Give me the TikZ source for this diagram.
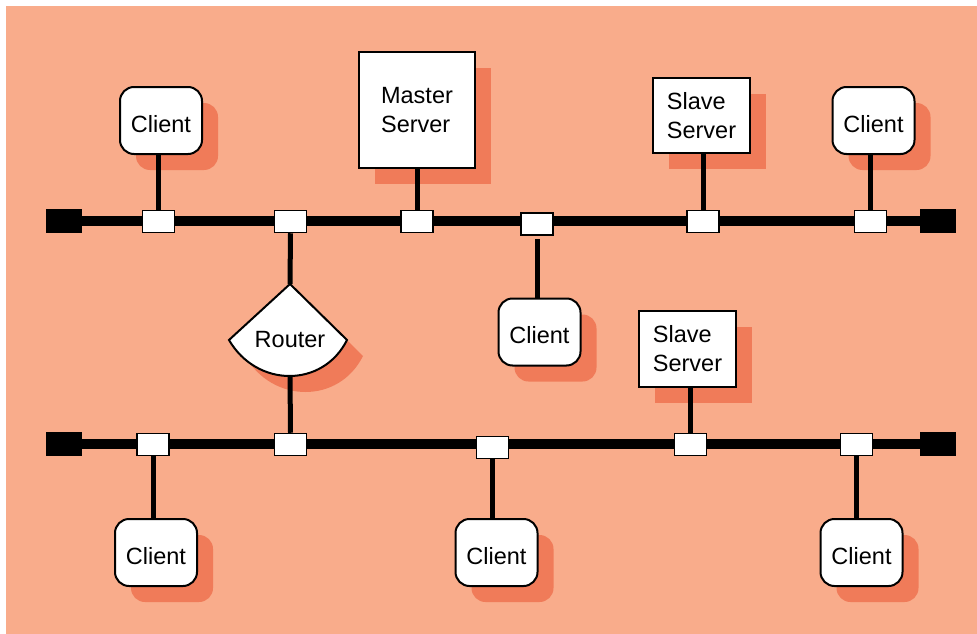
\documentclass[tikz,border=0pt]{standalone}
\usepackage{fontspec}
\setmainfont{Liberation Sans}
\usetikzlibrary{shadows}
\definecolor{bgsalmon}{RGB}{249,172,139}
\definecolor{shadowc}{RGB}{240,123,89}
\tikzset{
  txt/.style={font=\fontsize{23.5}{29}\selectfont},
  shd/.style={drop shadow={fill=shadowc, opacity=1, shadow xshift=16pt, shadow yshift=-16pt}},
  client/.style={txt, draw, fill=white, rounded corners=14pt, line width=2pt,
    minimum width=82pt, minimum height=67pt, inner sep=0pt, text height=23pt, text depth=0pt, shd},
  server/.style={txt, draw, fill=white, line width=2pt, inner sep=0pt, align=left, shd},
  tap/.style={draw, fill=white, line width=1.5pt, minimum width=32pt, minimum height=22pt, inner sep=0pt},
  term/.style={fill=black, minimum width=36pt, minimum height=24pt, inner sep=0pt},
  bus/.style={line width=10pt},
  drop/.style={line width=5pt}
}
\begin{document}
\begin{tikzpicture}[x=1pt,y=-1pt]
\useasboundingbox (0,0) rectangle (977,634);
\fill[bgsalmon] (6,6) rectangle (977,634);

% nodes with shadows
\node[client] (c1) at (161,120.5) {Client};
\node[client] (c2) at (873.5,120.5) {Client};
\node[client] (c3) at (539.5,332) {Client};
\node[client] (c4) at (156,552.5) {Client};
\node[client] (c5) at (496.5,552.5) {Client};
\node[client] (c6) at (861.5,552.5) {Client};
\node[server, minimum width=116pt, minimum height=115pt] (ms) at (417,110) {Master\\Server};
\node[server, minimum width=97pt, minimum height=75pt] (s1) at (701.5,115.5) {Slave\\Server};
\node[server, minimum width=97pt, minimum height=76pt] (s2) at (687.5,349) {Slave\\Server};

% router
\fill[shadowc, shift={(16,16)}] (290,284) -- (347,340) .. controls (323,388) and (257,388) .. (229,340) -- cycle;
\draw[fill=white, line width=2pt, line join=miter] (290,284) -- (347,340) .. controls (323,388) and (257,388) .. (229,340) -- cycle;
\coordinate (rt) at (290,284);
\coordinate (rb) at (290,376);
\node[txt, anchor=base] (router) at (290,347) {Router};

% buses
\node[term] (tl) at (64,221) {};
\node[term] (tr) at (938,221) {};
\node[term] (bl) at (64,444) {};
\node[term] (br) at (938,444) {};
\draw[bus] (tl.east) -- (tr.west);
\draw[bus] (bl.east) -- (br.west);

% taps
\node[tap] (t1) at (158.5,221.5) {};
\node[tap] (t2) at (290.5,221.5) {};
\node[tap] (t3) at (417,221.5) {};
\node[tap] (t4) at (537,224) {};
\node[tap] (t5) at (703,221.5) {};
\node[tap] (t6) at (870.5,221.5) {};
\node[tap] (b1) at (153,444.5) {};
\node[tap] (b2) at (290.5,444.5) {};
\node[tap] (b3) at (492.5,447.5) {};
\node[tap] (b4) at (690.5,444.5) {};
\node[tap] (b5) at (856.5,444.5) {};

% drops
\draw[drop] (t1.north) -- (t1.north |- c1.south);
\draw[drop] (t3.north) -- (t3.north |- ms.south);
\draw[drop] (t5.north) -- (t5.north |- s1.south);
\draw[drop] (t6.north) -- (t6.north |- c2.south);
\draw[drop] (t2.south) -- (rt);
\draw[drop] (rb) -- (b2.north);
\draw[drop] ([yshift=-3pt]t4.south) -- (t4.south |- c3.north);
\draw[drop] (b4.north) -- (b4.north |- s2.south);
\draw[drop] (b1.south) -- (b1.south |- c4.north);
\draw[drop] (b3.south) -- (b3.south |- c5.north);
\draw[drop] (b5.south) -- (b5.south |- c6.north);
\end{tikzpicture}
\end{document}
